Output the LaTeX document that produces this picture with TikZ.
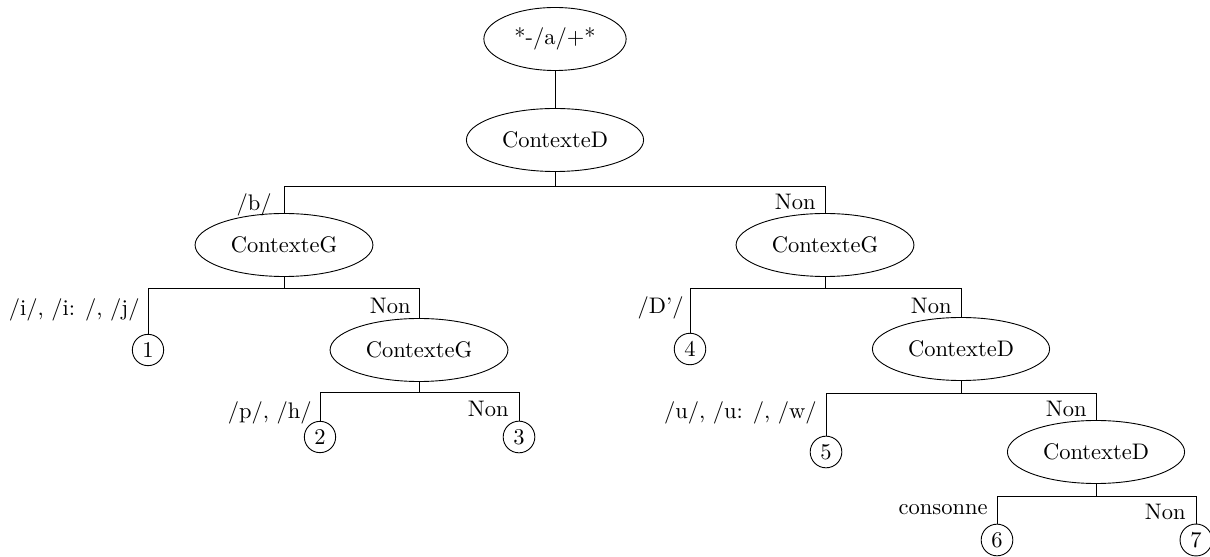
\documentclass[tikz,border=0pt]{standalone}
\usetikzlibrary{shapes.geometric}
\begin{document}
\begin{tikzpicture}[x=0.4444pt,y=-0.4444pt,
  el/.style={draw,ellipse,inner xsep=4.3pt,minimum height=28pt},
  leaf/.style={draw,circle,inner sep=2pt},
  lab/.style={anchor=base east,inner sep=0pt},
  conn/.style={draw,line width=0.4pt}]
\useasboundingbox (0,0) rectangle (1210,557);
% nodes
\node[el] (r) at (555,39) {*-/a/+*};
\node[el] (d1) at (555,140) {ContexteD};
\node[el] (g1) at (284,245) {ContexteG};
\node[el] (g2) at (825,245) {ContexteG};
\node[leaf] (n1) at (148,350) {1};
\node[el] (g3) at (419,350) {ContexteG};
\node[leaf] (n4) at (690,349) {4};
\node[el] (d2) at (961,349) {ContexteD};
\node[leaf] (n2) at (320,437) {2};
\node[leaf] (n3) at (519,437) {3};
\node[leaf] (n5) at (826,452) {5};
\node[el] (d3) at (1096,452) {ContexteD};
\node[leaf] (n6) at (997,540) {6};
\node[leaf] (n7) at (1196,540) {7};
% connectors
\draw[conn] (r) -- (d1);
\draw[conn] (d1.south) -- (d1.south |- 0,186) -| (g1.north);
\draw[conn] (d1.south |- 0,186) -| (g2.north);
\draw[conn] (g1.south) -- (g1.south |- 0,288) -| (n1.north);
\draw[conn] (g1.south |- 0,288) -| (g3.north);
\draw[conn] (g2.south) -- (g2.south |- 0,288) -| (n4.north);
\draw[conn] (g2.south |- 0,288) -| (d2.north);
\draw[conn] (g3.south) -- (g3.south |- 0,392) -| (n2.north);
\draw[conn] (g3.south |- 0,392) -| (n3.north);
\draw[conn] (d2.south) -- (d2.south |- 0,393) -| (n5.north);
\draw[conn] (d2.south |- 0,393) -| (d3.north);
\draw[conn] (d3.south) -- (d3.south |- 0,496) -| (n6.north);
\draw[conn] (d3.south |- 0,496) -| (n7.north);
% labels
\node[lab] (l1) at (272,211) {/b/};
\node[lab] (l2) at (816,210) {Non};
\node[lab] (l3) at (140,316) {/i/, /i: /, /j/};
\node[lab] (l4) at (411,314) {Non};
\node[lab] (l5) at (684,314) {/D'/};
\node[lab] (l6) at (952,314) {Non};
\node[lab] (l7) at (312,419) {/p/, /h/};
\node[lab] (l8) at (509,417) {Non};
\node[lab] (l9) at (817,419) {/u/, /u: /, /w/};
\node[lab] (l10) at (1087,417) {Non};
\node[lab] (l11) at (988,515) {consonne};
\node[lab] (l12) at (1186,520) {Non};
\end{tikzpicture}
\end{document}
